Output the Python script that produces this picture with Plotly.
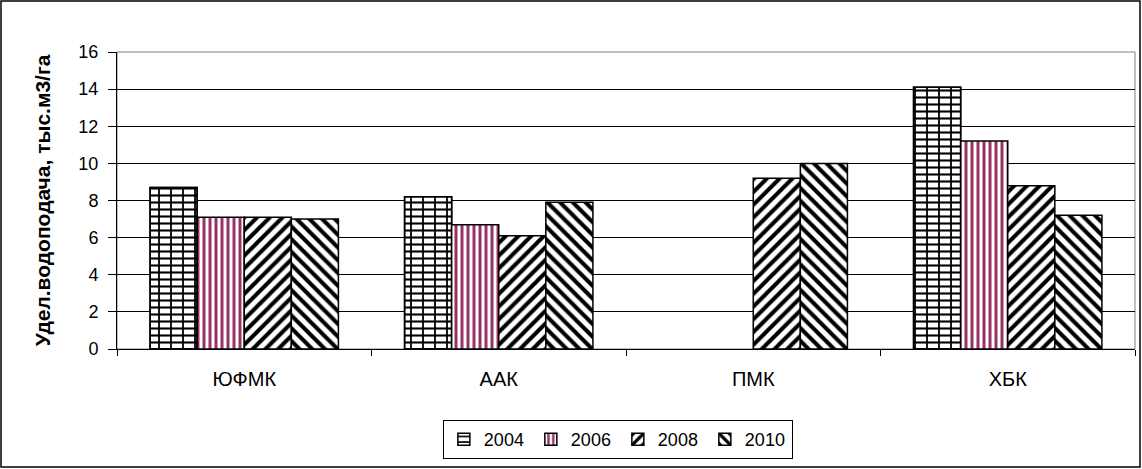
import plotly.graph_objects as go

# данные
categories = ["ЮФМК", "ААК", "ПМК", "ХБК"]
years = ["2004", "2006", "2008", "2010"]
v2004 = [8.7, 8.2, None, 14.1]
v2006 = [7.1, 6.7, None, 11.2]
v2008 = [7.1, 6.1, 9.2, 8.8]
v2010 = [7.0, 7.9, 10.0, 7.2]
y_ticks = [0, 2, 4, 6, 8, 10, 12, 14, 16]

W, H = 1142, 469
L, R, T, B = 117, 7, 52, 120
pw, ph = W - L - R, H - T - B

patterns = [
    dict(shape="-", fgcolor="black", bgcolor="white", fgopacity=1, size=7, solidity=0.3),
    dict(shape="|", fgcolor="#993366", bgcolor="white", fgopacity=1, size=6, solidity=0.5),
    dict(shape="/", fgcolor="black", bgcolor="white", fgopacity=1, size=9, solidity=0.45),
    dict(shape="\\", fgcolor="black", bgcolor="white", fgopacity=1, size=9, solidity=0.45),
]

bw = 0.185
fig = go.Figure()
for i, (yr, vals, pat) in enumerate(zip(years, [v2004, v2006, v2008, v2010], patterns)):
    fig.add_trace(go.Bar(
        x=categories, y=vals, name=yr, width=bw, offset=-2 * bw + i * bw,
        marker=dict(color="white", pattern=pat, line=dict(color="black", width=1.5)),
    ))
    if i == 0:
        # вертикальные швы "кирпича"
        fig.add_trace(go.Bar(
            x=categories, y=vals, width=bw, offset=-2 * bw, showlegend=False, hoverinfo="skip",
            marker=dict(color="rgba(0,0,0,0)",
                        pattern=dict(shape="|", fgcolor="black", bgcolor="rgba(0,0,0,0)",
                                     fgopacity=1, size=12, solidity=0.15),
                        line=dict(color="black", width=1.5)),
        ))

# рамка области построения и общая рамка
fig.add_shape(type="rect", xref="paper", yref="paper", x0=0, x1=1, y0=0, y1=1,
              line=dict(color="#808080", width=1), layer="below")
fig.add_shape(type="rect", xref="paper", yref="paper",
              x0=(1 - L) / pw, x1=(W - 2 - L) / pw,
              y0=-(H - 2 - T - ph) / ph, y1=(T - 1) / ph + 1,
              line=dict(color="black", width=1.5))

fig.update_layout(
    width=W, height=H,
    margin=dict(l=L, r=R, t=T, b=B, autoexpand=False),
    barmode="overlay",
    paper_bgcolor="white", plot_bgcolor="white",
    font=dict(family="Liberation Sans, Arial", size=16, color="black"),
    legend=dict(orientation="h", x=0.492, xanchor="center", y=-0.305, yanchor="middle",
                bordercolor="black", borderwidth=1, font=dict(size=18),
                itemwidth=30, tracegroupgap=0, entrywidth=42, entrywidthmode="pixels"),
    showlegend=True,
)
fig.update_xaxes(range=[-0.5, 3.5], showline=True, linecolor="black", linewidth=1,
                 ticks="outside", tickson="boundaries", ticklen=6, tickcolor="black",
                 tickfont=dict(size=20), ticklabelstandoff=12)
fig.update_yaxes(range=[0, 16], tickvals=y_ticks, showgrid=True, gridcolor="black", gridwidth=1,
                 showline=True, linecolor="black", linewidth=1, ticks="outside", ticklen=8,
                 tickcolor="black", tickfont=dict(size=18), zeroline=False, ticklabelstandoff=6,
                 title=dict(text="<b>Удел.водоподача, тыс.м3/га</b>", font=dict(size=21), standoff=22))

fig.write_html("out.html", config={"displayModeBar": False},
               post_script="document.body.style.margin='0';")
